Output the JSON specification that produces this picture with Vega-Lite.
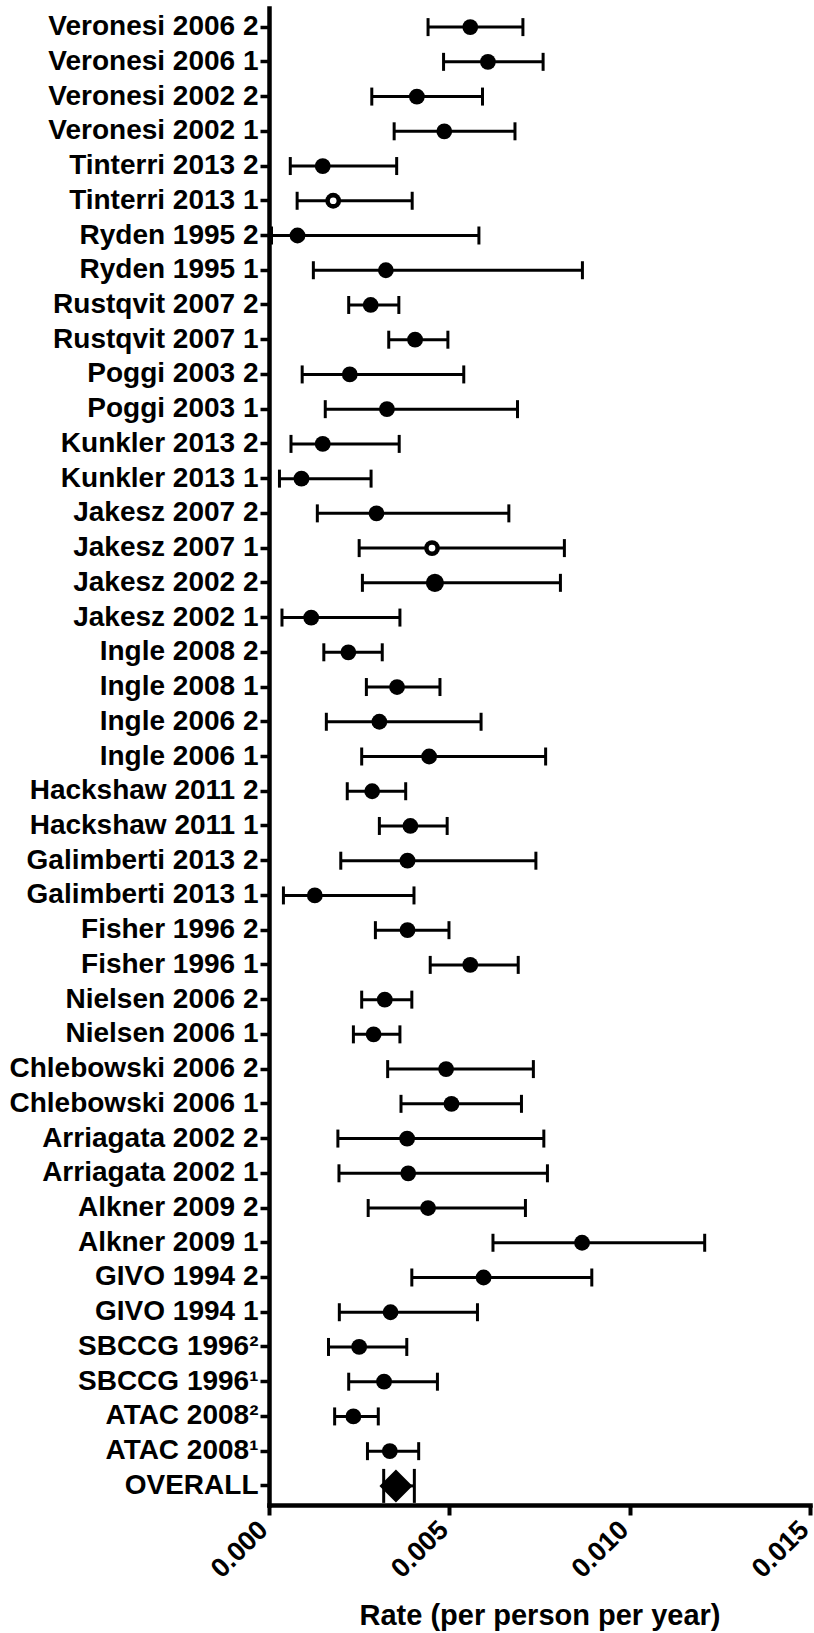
{
  "$schema": "https://vega.github.io/schema/vega-lite/v6.json",
  "width": 541,
  "height": 1497,
  "autosize": {"type": "none"},
  "padding": {"left": 269, "top": 8, "right": 4, "bottom": 128},
  "background": "white",
  "config": {
    "view": {"stroke": null},
    "font": "Liberation Sans",
    "axis": {"domainColor": "black", "tickColor": "black", "labelColor": "black", "titleColor": "black", "grid": false, "domainCap": "square"}
  },
  "data": {
    "values": [
      {"study": "Veronesi 2006 2", "lo": 0.00441, "est": 0.00558, "hi": 0.00704},
      {"study": "Veronesi 2006 1", "lo": 0.00484, "est": 0.00607, "hi": 0.00760},
      {"study": "Veronesi 2002 2", "lo": 0.00285, "est": 0.00410, "hi": 0.00592},
      {"study": "Veronesi 2002 1", "lo": 0.00347, "est": 0.00486, "hi": 0.00682},
      {"study": "Tinterri 2013 2", "lo": 0.00059, "est": 0.00149, "hi": 0.00354},
      {"study": "Tinterri 2013 1", "lo": 0.00078, "est": 0.00178, "hi": 0.00397},
      {"study": "Ryden 1995 2", "lo": 0.00007, "est": 0.00079, "hi": 0.00582},
      {"study": "Ryden 1995 1", "lo": 0.00123, "est": 0.00324, "hi": 0.00869},
      {"study": "Rustqvit 2007 2", "lo": 0.00221, "est": 0.00282, "hi": 0.00360},
      {"study": "Rustqvit 2007 1", "lo": 0.00332, "est": 0.00405, "hi": 0.00496},
      {"study": "Poggi 2003 2", "lo": 0.00092, "est": 0.00224, "hi": 0.00540},
      {"study": "Poggi 2003 1", "lo": 0.00156, "est": 0.00327, "hi": 0.00689},
      {"study": "Kunkler 2013 2", "lo": 0.00061, "est": 0.00149, "hi": 0.00361},
      {"study": "Kunkler 2013 1", "lo": 0.00029, "est": 0.00090, "hi": 0.00283},
      {"study": "Jakesz 2007 2", "lo": 0.00134, "est": 0.00298, "hi": 0.00665},
      {"study": "Jakesz 2007 1", "lo": 0.00250, "est": 0.00452, "hi": 0.00819},
      {"study": "Jakesz 2002 2", "lo": 0.00259, "est": 0.00460, "hi": 0.00808},
      {"study": "Jakesz 2002 1", "lo": 0.00036, "est": 0.00117, "hi": 0.00363},
      {"study": "Ingle 2008 2", "lo": 0.00152, "est": 0.00220, "hi": 0.00314},
      {"study": "Ingle 2008 1", "lo": 0.00270, "est": 0.00355, "hi": 0.00474},
      {"study": "Ingle 2006 2", "lo": 0.00159, "est": 0.00306, "hi": 0.00588},
      {"study": "Ingle 2006 1", "lo": 0.00257, "est": 0.00444, "hi": 0.00767},
      {"study": "Hackshaw 2011 2", "lo": 0.00217, "est": 0.00286, "hi": 0.00379},
      {"study": "Hackshaw 2011 1", "lo": 0.00306, "est": 0.00392, "hi": 0.00494},
      {"study": "Galimberti 2013 2", "lo": 0.00199, "est": 0.00384, "hi": 0.00740},
      {"study": "Galimberti 2013 1", "lo": 0.00040, "est": 0.00127, "hi": 0.00402},
      {"study": "Fisher 1996 2", "lo": 0.00295, "est": 0.00384, "hi": 0.00499},
      {"study": "Fisher 1996 1", "lo": 0.00447, "est": 0.00558, "hi": 0.00691},
      {"study": "Nielsen 2006 2", "lo": 0.00257, "est": 0.00321, "hi": 0.00396},
      {"study": "Nielsen 2006 1", "lo": 0.00234, "est": 0.00290, "hi": 0.00363},
      {"study": "Chlebowski 2006 2", "lo": 0.00329, "est": 0.00491, "hi": 0.00733},
      {"study": "Chlebowski 2006 1", "lo": 0.00366, "est": 0.00506, "hi": 0.00700},
      {"study": "Arriagata 2002 2", "lo": 0.00191, "est": 0.00383, "hi": 0.00762},
      {"study": "Arriagata 2002 1", "lo": 0.00194, "est": 0.00386, "hi": 0.00772},
      {"study": "Alkner 2009 2", "lo": 0.00275, "est": 0.00441, "hi": 0.00711},
      {"study": "Alkner 2009 1", "lo": 0.00621, "est": 0.00868, "hi": 0.01208},
      {"study": "GIVO 1994 2", "lo": 0.00396, "est": 0.00595, "hi": 0.00895},
      {"study": "GIVO 1994 1", "lo": 0.00195, "est": 0.00337, "hi": 0.00578},
      {"study": "SBCCG 1996²", "lo": 0.00165, "est": 0.00250, "hi": 0.00382},
      {"study": "SBCCG 1996¹", "lo": 0.00221, "est": 0.00319, "hi": 0.00467},
      {"study": "ATAC 2008²", "lo": 0.00182, "est": 0.00234, "hi": 0.00303},
      {"study": "ATAC 2008¹", "lo": 0.00273, "est": 0.00335, "hi": 0.00415},
      {"study": "OVERALL", "lo": 0.00318, "est": 0.00352, "hi": 0.00403}
    ]
  },
  "encoding": {
    "y": {
      "field": "study",
      "type": "nominal",
      "sort": null,
      "scale": {"type": "band", "paddingInner": 0, "paddingOuter": 0.05},
      "axis": {
        "title": null,
        "labelFontSize": 28,
        "labelFontWeight": "bold",
        "labelPadding": 2,
        "labelLimit": 300,
        "tickSize": 9,
        "tickWidth": 3.5,
        "domainWidth": 4.5
      }
    }
  },
  "layer": [
    {
      "mark": {"type": "rule", "strokeWidth": 3, "color": "black"},
      "encoding": {
        "x": {
          "field": "lo",
          "type": "quantitative",
          "scale": {"domain": [0, 0.015], "nice": false, "zero": true},
          "axis": {
            "values": [0, 0.005, 0.01, 0.015],
            "format": ".3f",
            "labelAngle": -45,
            "labelAlign": "right",
            "labelBaseline": "alphabetic",
            "labelFontSize": 27,
            "labelFontWeight": "bold",
            "labelFlush": false,
            "labelOverlap": false,
            "labelPadding": 16,
            "tickSize": 10,
            "tickWidth": 4,
            "domainWidth": 4.5,
            "title": "Rate (per person per year)",
            "titleFontSize": 29,
            "titleFontWeight": "bold",
            "titlePadding": 19
          }
        },
        "x2": {"field": "hi"}
      }
    },
    {
      "transform": [{"filter": "datum.study !== 'OVERALL'"}],
      "mark": {"type": "tick", "thickness": 3, "size": 18, "color": "black", "opacity": 1},
      "encoding": {"x": {"field": "lo", "type": "quantitative"}}
    },
    {
      "transform": [{"filter": "datum.study !== 'OVERALL'"}],
      "mark": {"type": "tick", "thickness": 3, "size": 18, "color": "black", "opacity": 1},
      "encoding": {"x": {"field": "hi", "type": "quantitative"}}
    },
    {
      "transform": [{"filter": "datum.study === 'OVERALL'"}],
      "mark": {"type": "tick", "thickness": 3, "size": 34, "color": "black", "opacity": 1},
      "encoding": {"x": {"field": "lo", "type": "quantitative"}}
    },
    {
      "transform": [{"filter": "datum.study === 'OVERALL'"}],
      "mark": {"type": "tick", "thickness": 3, "size": 34, "color": "black", "opacity": 1},
      "encoding": {"x": {"field": "hi", "type": "quantitative"}}
    },
    {
      "transform": [{"filter": "datum.study !== 'OVERALL' && datum.study !== 'Jakesz 2002 2'"}],
      "mark": {"type": "point", "shape": "circle", "filled": true, "size": 250, "color": "black", "opacity": 1},
      "encoding": {"x": {"field": "est", "type": "quantitative"}}
    },
    {
      "transform": [{"filter": "datum.study === 'Jakesz 2002 2'"}],
      "mark": {"type": "point", "shape": "circle", "filled": true, "size": 330, "color": "black", "opacity": 1},
      "encoding": {"x": {"field": "est", "type": "quantitative"}}
    },
    {
      "transform": [{"filter": "datum.study === 'Tinterri 2013 1' || datum.study === 'Jakesz 2007 1'"}],
      "mark": {"type": "point", "shape": "circle", "filled": true, "size": 45, "color": "white", "opacity": 1},
      "encoding": {"x": {"field": "est", "type": "quantitative"}}
    },
    {
      "transform": [{"filter": "datum.study === 'OVERALL'"}],
      "mark": {"type": "point", "shape": "diamond", "filled": true, "size": 1090, "color": "black", "opacity": 1},
      "encoding": {"x": {"field": "est", "type": "quantitative"}}
    }
  ]
}
